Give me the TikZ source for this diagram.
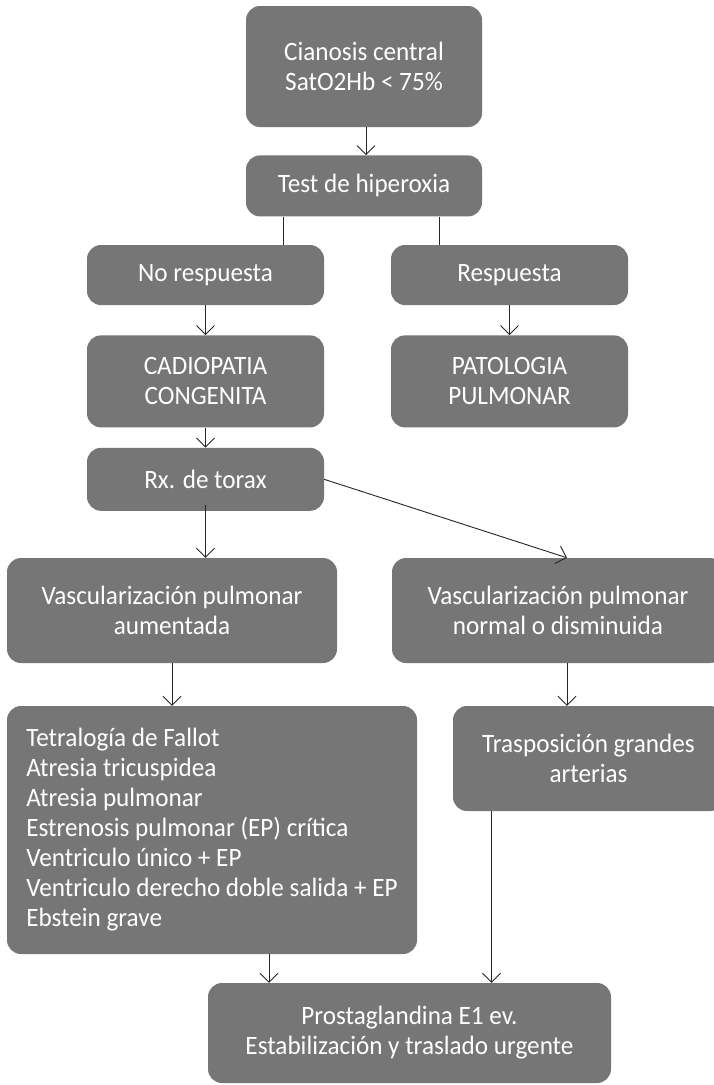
\documentclass[tikz,border=0pt]{standalone}
\usepackage{fontspec}
\setmainfont{Carlito}[FakeStretch=0.95]
\usepackage{xcolor}
\usetikzlibrary{arrows.meta,positioning,calc}

\definecolor{gris}{RGB}{118,118,118}

\begin{document}
\begin{tikzpicture}[
    x=1pt, y=-1pt,
    node distance=28pt,
    caja/.style={rectangle, fill=gris, rounded corners=14pt, text=white, align=center, inner sep=0pt, font=\fontsize{26.5pt}{30pt}\selectfont},
    lista/.style={caja, align=left},
    flecha/.style={-{Straight Barb[length=9pt,width=18pt]}, line width=0.9pt, draw=black!85},
    linea/.style={line width=0.9pt, draw=black!85}
]
    \fill[white] (0,0) rectangle (714,1085);
    \useasboundingbox (0,0) rectangle (714,1085);

    \node [caja, minimum width=236pt, minimum height=121pt] (cian) at (364,66.5) {Cianosis central\\SatO2Hb < 75\%};
    \node [caja, minimum width=236pt, minimum height=61pt, below=28pt of cian] (test) {Test de hiperoxia};
    \node [caja, minimum width=237pt, minimum height=60pt] (nores) at (205.5,275) {No respuesta};
    \node [caja, minimum width=237pt, minimum height=60pt] (resp) at (509.5,275) {Respuesta};
    \node [caja, minimum width=237pt, minimum height=92pt, below=30pt of nores] (cadio) {CADIOPATIA\\CONGENITA};
    \node [caja, minimum width=237pt, minimum height=92pt, below=30pt of resp] (pato) {PATOLOGIA\\PULMONAR};
    \node [caja, minimum width=237pt, minimum height=63pt, below=20pt of cadio] (rx) {Rx. de torax};

    \node [caja, minimum width=330pt, minimum height=105pt] (vasA) at (172,610.5) {Vascularización pulmonar\\aumentada};
    \node [caja, minimum width=332pt, minimum height=105pt] (vasB) at (558,610.5) {Vascularización pulmonar\\normal o disminuida};

    \node [lista, minimum width=410pt, minimum height=248pt] (lista) at (212,830) {Tetralogía de Fallot\\Atresia tricuspidea\\Atresia pulmonar\\Estrenosis pulmonar (EP) crítica\\Ventriculo único + EP\\Ventriculo derecho doble salida + EP\\Ebstein grave};
    \node [caja, minimum width=271pt, minimum height=105pt] (trasp) at (588.5,758.5) {Trasposición grandes\\arterias};

    \node [caja, minimum width=403pt, minimum height=100pt] (prosta) at (409.5,1033) {Prostaglandina E1 ev.\\Estabilización y traslado urgente};

    % conexiones
    \draw [flecha] ([xshift=2pt]cian.south) -- ([xshift=2pt]test.north);
    \draw [linea] ([xshift=38pt]test.south west) -- ([xshift=38pt]test.south west |- nores.north);
    \draw [linea] ([xshift=-43pt]test.south east) -- ([xshift=-43pt]test.south east |- resp.north);
    \draw [flecha] (nores) -- (cadio);
    \draw [flecha] (resp) -- (pato);
    \draw [flecha] (cadio) -- (rx);
    \draw [flecha] ([yshift=6pt]rx.south) -- (rx.south |- vasA.north);
    \draw [flecha] (rx.east) -- ([xshift=9pt]vasB.north);
    \draw [flecha] (vasA.south) -- (vasA.south |- lista.north);
    \draw [flecha] ([xshift=9pt]vasB.south) -- ([xshift=9pt]vasB.south |- trasp.north);
    \draw [flecha] ([xshift=57pt]lista.south) -- ([xshift=57pt]lista.south |- prosta.north);
    \draw [flecha] ([xshift=-97pt]trasp.south) -- ([xshift=-97pt]trasp.south |- prosta.north);
\end{tikzpicture}
\end{document}
